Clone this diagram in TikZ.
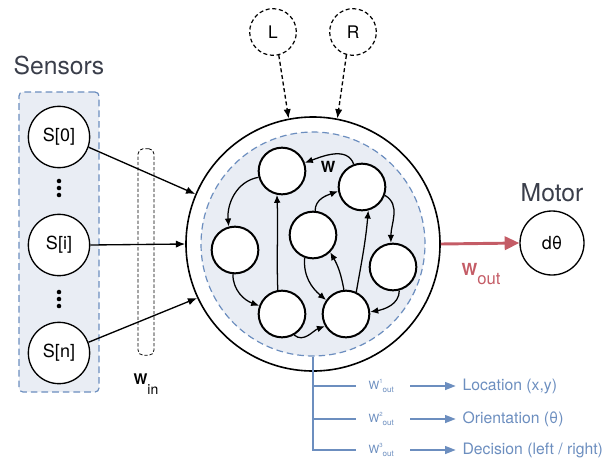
\documentclass[tikz,border=0pt]{standalone}
\usepackage{fontspec}
\setmainfont{TeX Gyre Heros}
\usetikzlibrary{arrows.meta,positioning}
\definecolor{poolfill}{RGB}{233,237,244}
\definecolor{poolline}{RGB}{108,142,191}
\definecolor{outred}{RGB}{196,92,102}
\definecolor{titlegray}{RGB}{58,62,74}

\begin{document}
\begin{tikzpicture}[x=0.75pt,y=0.75pt,
  neuron/.style={draw,circle,line width=1.5pt,fill=white,minimum size=35pt,inner sep=0pt},
  sensor/.style={draw,circle,line width=1pt,fill=white,minimum size=46pt,inner sep=0pt,
                 font=\fontsize{13.5}{16}\selectfont},
  cue/.style={draw,circle,dashed,dash pattern=on 3pt off 2pt,line width=0.9pt,
              minimum size=35pt,inner sep=0pt,font=\fontsize{13}{16}\selectfont},
  link/.style={-{Latex[length=6pt,width=5pt]},line width=0.95pt},
  feed/.style={-{Latex[length=7pt,width=5.5pt]},line width=1pt},
  heading/.style={text=titlegray,font=\fontsize{18.5}{22}\selectfont},
  group/.style={draw=poolline,fill=poolfill,dashed,dash pattern=on 5pt off 3pt,line width=0.9pt},
  wlabel/.style={text=poolline,anchor=west,inner sep=1pt,font=\fontsize{8.5}{10}\selectfont},
  target/.style={text=poolline,anchor=west,inner sep=1pt,font=\fontsize{11.8}{14}\selectfont},
  branch/.style={draw=poolline,line width=1pt},
  outarrow/.style={-{Triangle[length=8pt,width=6pt]},draw=poolline,line width=1pt}
]
\useasboundingbox (0,0) rectangle (605,462);

% sensors
\node[group,rounded corners=3pt,minimum width=60pt,minimum height=225pt] (sensbox) at (59,220) {};
\node[heading,above=9pt of sensbox] (senstitle) {Sensors};
\node[sensor] (s0) at (59,325) {S[0]};
\node[sensor] (si) at (59,217) {S[i]};
\node[sensor] (sn) at (59,109) {S[n]};
\foreach \c in {274,163}
  \foreach \d in {-7,0,7}
    \fill (59,\c+\d) circle (1.7pt);

% input weights
\node[draw,dashed,dash pattern=on 2.5pt off 1.5pt,rounded corners=4pt,line width=0.6pt,
      minimum width=12pt,minimum height=155pt] (winbox) at (146,210) {};
\node[font=\fontsize{11}{13}\selectfont] (winlabel) at (146,78)
  {\textbf{W}\raisebox{-7pt}{\fontsize{10.5}{12}\selectfont in}};

% reservoir
\node[circle,draw,line width=1.2pt,minimum size=190.5pt,inner sep=0pt] (res) at (313,218) {};
\node[circle,group,minimum size=168pt,inner sep=0pt] (pool) at (313,218) {};
\node[neuron] (n1) at (282,291) {};
\node[neuron] (n2) at (362,275) {};
\node[neuron] (n3) at (235,212) {};
\node[neuron] (n4) at (313,227) {};
\node[neuron] (n5) at (393,195) {};
\node[neuron] (n6) at (282,148) {};
\node[neuron] (n7) at (346,148) {};
\node[font=\fontsize{11.5}{13}\selectfont\bfseries] (wrec) at (328,295) {W};

\draw[link] (n2.110) to[out=110,in=20] (n1.20);
\draw[link] (n1.195) to[out=190,in=95] (n3.105);
\draw[link] (n3.265) to[out=270,in=160] (n6.160);
\draw[link] (n6.100) to[out=92,in=-88] (n1.258);
\draw[link] (n4.85) to[out=90,in=200] (n2.190);
\draw[link] (n2.-20) to[out=-30,in=90] (n5.95);
\draw[link] (n5.-75) to[out=-90,in=10] (n7.5);
\draw[link] (n7.65) to[out=80,in=-95] (n2.-75);
\draw[link] (n7.95) to[out=100,in=-60] (n4.-45);
\draw[link] (n4.-110) to[out=-95,in=140] (n7.145);
\draw[link] (n6.-60) to[out=-40,in=200] (n7.210);

% sensor inputs
\draw[feed] (s0.-19) -- (res.157);
\draw[feed] (si.east) -- (res.west);
\draw[feed] (sn.20) -- (res.205);

% left / right cues
\node[cue] (cueL) at (273,430) {L};
\node[cue] (cueR) at (353,430) {R};
\draw[feed,dashed,dash pattern=on 3pt off 2pt] (cueL.-76) -- (res.101);
\draw[feed,dashed,dash pattern=on 3pt off 2pt] (cueR.-106) -- (res.79);

% motor
\node[circle,draw,line width=1pt,minimum size=48pt,inner sep=0pt,
      font=\fontsize{13.5}{16}\selectfont] (motor) at (552,219) {dθ};
\node[heading,above=3pt of motor] (motortitle) {Motor};
\draw[-{Triangle[length=11pt,width=10pt]},draw=outred,line width=2.2pt] (res.east) -- (motor.west);
\node[text=outred,font=\fontsize{12.5}{15}\selectfont] (wout) at (481,188)
  {\textbf{W}\raisebox{-7pt}{out}};

% readouts
\node[wlabel] (wo1) at (367,76) {W\raisebox{4.2pt}{\fontsize{4.5}{5}\selectfont 1}\raisebox{-2.5pt}{\fontsize{6}{6}\selectfont out}};
\node[wlabel] (wo2) at (367,43) {W\raisebox{4.2pt}{\fontsize{4.5}{5}\selectfont 2}\raisebox{-2.5pt}{\fontsize{6}{6}\selectfont out}};
\node[wlabel] (wo3) at (367,12) {W\raisebox{4.2pt}{\fontsize{4.5}{5}\selectfont 3}\raisebox{-2.5pt}{\fontsize{6}{6}\selectfont out}};
\node[target] (loc) at (461,76) {Location (x,y)};
\node[target] (ori) at (461,43) {Orientation (θ)};
\node[target] (dec) at (461,12) {Decision (left / right)};

\draw[branch] (pool.south) |- ([xshift=-8pt]wo3.west);
\draw[branch] (pool.south |- wo1.west) -- ([xshift=-8pt]wo1.west);
\draw[branch] (pool.south |- wo2.west) -- ([xshift=-8pt]wo2.west);
\draw[outarrow,shorten <=11pt,shorten >=4pt] (wo1.east) -- (wo1.east -| loc.west);
\draw[outarrow,shorten <=11pt,shorten >=4pt] (wo2.east) -- (wo2.east -| ori.west);
\draw[outarrow,shorten <=11pt,shorten >=4pt] (wo3.east) -- (wo3.east -| dec.west);
\end{tikzpicture}
\end{document}
